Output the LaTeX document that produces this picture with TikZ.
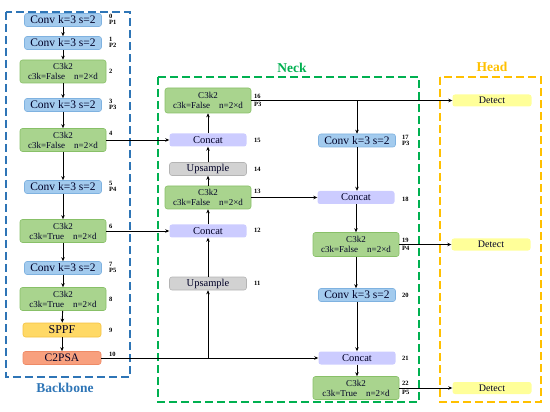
\documentclass[tikz,border=0pt]{standalone}
\usepackage{fontspec}
\setmainfont{Liberation Serif}
\newfontfamily\tnr{Liberation Serif}
\usetikzlibrary{arrows.meta}
\definecolor{convfill}{HTML}{A3CBEE}
\definecolor{convdraw}{HTML}{7FB2E0}
\definecolor{c3fill}{HTML}{A9D48E}
\definecolor{c3draw}{HTML}{88C068}
\definecolor{catfill}{HTML}{CCCCFF}
\definecolor{upfill}{HTML}{D2D2D2}
\definecolor{updraw}{HTML}{B4B4B4}
\definecolor{sppffill}{HTML}{FFD966}
\definecolor{sppfdraw}{HTML}{F4C242}
\definecolor{psafill}{HTML}{F8A07E}
\definecolor{psadraw}{HTML}{EE8A66}
\definecolor{detfill}{HTML}{FFFF99}
\definecolor{bbblue}{HTML}{2E75B6}
\definecolor{neckgreen}{HTML}{00B050}
\definecolor{headorange}{HTML}{FFC000}
\begin{document}
\begin{tikzpicture}[x=1pt,y=-1pt,
  blk/.style={rounded corners=2.5pt, inner sep=0pt, text=black!85!blue},
  conv/.style={blk, fill=convfill, draw=convdraw, line width=0.6pt, minimum width=77, minimum height=13, font=\tnr\fontsize{11.5}{11.5}\selectfont},
  cthree/.style={blk, fill=c3fill, draw=c3draw, line width=0.6pt, minimum width=86, minimum height=23, align=center, font=\tnr\fontsize{9}{10}\selectfont},
  cat/.style={blk, fill=catfill, minimum width=77, minimum height=13, font=\tnr\fontsize{10.5}{10.5}\selectfont},
  ups/.style={blk, fill=upfill, draw=updraw, line width=0.6pt, minimum width=77, minimum height=13, font=\tnr\fontsize{10.5}{10.5}\selectfont},
  sppf/.style={blk, fill=sppffill, draw=sppfdraw, line width=0.6pt, minimum width=78, minimum height=14, font=\tnr\fontsize{12}{12}\selectfont},
  psa/.style={blk, fill=psafill, draw=psadraw, line width=0.6pt, minimum width=78, minimum height=13, font=\tnr\fontsize{11.5}{11.5}\selectfont},
  det/.style={blk, fill=detfill, minimum width=79, minimum height=12, font=\tnr\fontsize{10}{10}\selectfont},
  idx/.style={anchor=west, inner sep=0pt, font=\tnr\fontsize{6.5}{6.5}\selectfont\bfseries, align=left},
  arr/.style={line width=0.9pt, -{Stealth[length=4pt,width=3.5pt]}},
  grp/.style={dash pattern=on 8pt off 4pt, line width=1.5pt},
  ttl/.style={font=\tnr\fontsize{13.5}{13.5}\selectfont\bfseries}
]
\useasboundingbox (0,0) rectangle (550,412);
% group frames
\draw[grp, draw=bbblue] (6,12) rectangle (130,377);
\node[ttl, text=bbblue] (tbb) at (65,388) {Backbone};
\draw[grp, draw=neckgreen] (158,77) rectangle (419,402);
\node[ttl, text=neckgreen] (tneck) at (292,68) {Neck};
\draw[grp, draw=headorange] (440,77) rectangle (541,402);
\node[ttl, text=headorange] (thead) at (492,67) {Head};

% backbone
\node[conv] (b0) at (63,20) {Conv k=3 s=2};
\node[conv] (b1) at (63,43) {Conv k=3 s=2};
\node[cthree] (b2) at (63,71.5) {C3k2\\c3k=False\quad n=2×d};
\node[conv] (b3) at (63,105) {Conv k=3 s=2};
\node[cthree] (b4) at (63,140) {C3k2\\c3k=False\quad n=2×d};
\node[conv] (b5) at (63,187) {Conv k=3 s=2};
\node[cthree] (b6) at (63,231) {C3k2\\c3k=True\quad n=2×d};
\node[conv] (b7) at (63,268) {Conv k=3 s=2};
\node[cthree] (b8) at (63,299) {C3k2\\c3k=True\quad n=2×d};
\node[sppf] (b9) at (62,330) {SPPF};
\node[psa] (b10) at (62,358) {C2PSA};

\node[idx] (l0) at (109,19) {0\\[-0.5pt]P1};
\node[idx] (l1) at (109,42) {1\\[-0.5pt]P2};
\node[idx] (l2) at (109,71) {2};
\node[idx] (l3) at (109,104) {3\\[-0.5pt]P3};
\node[idx] (l4) at (109,133) {4};
\node[idx] (l5) at (109,186) {5\\[-0.5pt]P4};
\node[idx] (l6) at (109,226) {6};
\node[idx] (l7) at (109,267) {7\\[-0.5pt]P5};
\node[idx] (l8) at (109,299) {8};
\node[idx] (l9) at (109,330) {9};
\node[idx] (l10) at (109,354) {10};

\foreach \a/\b in {b0/b1,b1/b2,b2/b3,b3/b4,b4/b5,b5/b6,b6/b7,b7/b8,b8/b9,b9/b10}
  \draw[arr] (\a) -- (\b);

% neck left column
\node[cthree, minimum height=25] (n16) at (208,100.5) {C3k2\\c3k=False\quad n=2×d};
\node[cat] (n15) at (208,140) {Concat};
\node[ups] (n14) at (208,169) {Upsample};
\node[cthree] (n13) at (208,197.5) {C3k2\\c3k=False\quad n=2×d};
\node[cat] (n12) at (208,231) {Concat};
\node[ups] (n11) at (208,283.5) {Upsample};

\node[idx] (l16) at (254,100.5) {16\\[2pt]P3};
\node[idx] (l15) at (254,140) {15};
\node[idx] (l14) at (254,169) {14};
\node[idx] (l13) at (254,191) {13};
\node[idx] (l12) at (254,230) {12};
\node[idx] (l11) at (254,283) {11};

% neck right column
\node[conv] (n17) at (357,140.5) {Conv k=3 s=2};
\node[cat] (n18) at (356,197.5) {Concat};
\node[cthree, minimum height=24] (n19) at (356,244.5) {C3k2\\c3k=False\quad n=2×d};
\node[conv] (n20) at (357,295) {Conv k=3 s=2};
\node[cat] (n21) at (357,358) {Concat};
\node[cthree] (n22) at (356,388) {C3k2\\c3k=True\quad n=2×d};

\node[idx] (l17) at (402,140) {17\\[-0.5pt]P3};
\node[idx] (l18) at (402,199) {18};
\node[idx] (l19) at (402,244.5) {19\\[2pt]P4};
\node[idx] (l20) at (402,295) {20};
\node[idx] (l21) at (402,358) {21};
\node[idx] (l22) at (402,388) {22\\[2pt]P5};

% head
\node[det] (d1) at (492,100.5) {Detect};
\node[det] (d2) at (491,244.5) {Detect};
\node[det] (d3) at (492,388) {Detect};

% connectors
\draw[arr] (b4.east) -- (n15.west);
\draw[arr] (b6.east) -- (b6.east -| n12.west);
\coordinate (j10) at (n11 |- b10);
\draw[arr] (b10.east) -- (n21.west);
\draw[arr] (j10) -- (n11);
\draw[arr] (n11) -- (n12);
\draw[arr] (n12) -- (n13);
\draw[arr] (n13) -- (n14);
\draw[arr] (n14) -- (n15);
\draw[arr] (n15) -- (n16);
\coordinate (j16) at (n17 |- n16);
\draw[arr] (n16.east) -- (d1.west);
\draw[arr] (j16) -- (n17);
\draw[arr] (n17) -- (n17 |- n18.north);
\draw[arr] (n13.east) -- (n18.west);
\draw[arr] (n18) -- (n18 |- n19.north);
\draw[arr] (n19.east) -- (d2.west);
\draw[arr] (n19) -- (n19 |- n20.north);
\draw[arr] (n20) -- (n20 |- n21.north);
\draw[arr] (n21) -- (n21 |- n22.north);
\draw[arr] (n22.east) -- (d3.west);
\end{tikzpicture}
\end{document}
